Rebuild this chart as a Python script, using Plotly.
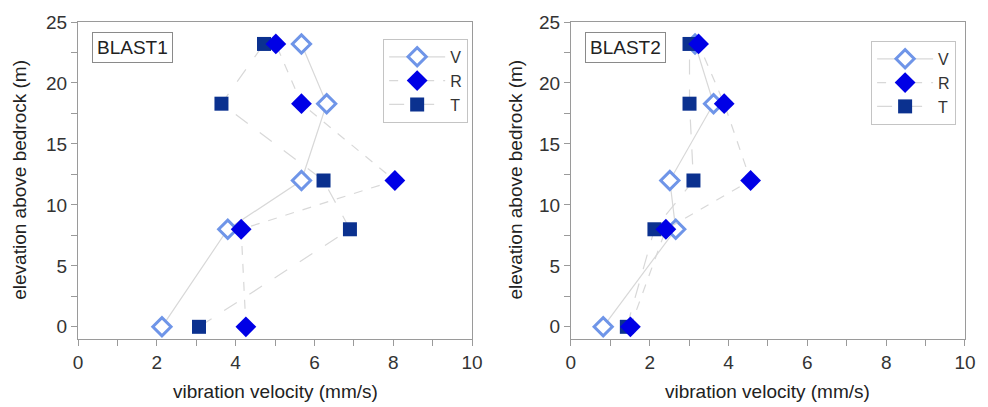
import plotly.graph_objects as go

# elevations (m)
elev = [0, 8, 12, 18.3, 23.2]

# BLAST1 vibration velocities (mm/s)
b1_V = [2.13, 3.80, 5.67, 6.31, 5.67]
b1_R = [4.26, 4.14, 8.04, 5.67, 5.02]
b1_T = [3.07, 6.90, 6.23, 3.64, 4.72]

# BLAST2 vibration velocities (mm/s)
b2_V = [0.82, 2.66, 2.51, 3.62, 3.15]
b2_R = [1.51, 2.41, 4.56, 3.89, 3.24]
b2_T = [1.42, 2.12, 3.11, 3.01, 3.01]

panel_names = ["BLAST1", "BLAST2"]
x_ticks = [0, 2, 4, 6, 8, 10]
y_ticks = [0, 5, 10, 15, 20, 25]

FONT = "Liberation Sans, Arial, sans-serif"
C_V = "#6f95e8"
C_R = "#0000e6"
C_T = "#0b318f"
LINE_C = "#d8d8d8"

fig = go.Figure()

panels = [(b1_V, b1_R, b1_T, "x", "y", "legend"),
          (b2_V, b2_R, b2_T, "x2", "y2", "legend2")]

for V, R, T, xa, ya, lg in panels:
    fig.add_trace(go.Scatter(
        x=V, y=elev, name="V", mode="lines+markers", xaxis=xa, yaxis=ya, legend=lg,
        legendrank=1,
        line=dict(color=LINE_C, width=1.2, dash="solid"),
        marker=dict(symbol="diamond", size=14, color="white",
                    line=dict(color=C_V, width=3))))
    fig.add_trace(go.Scatter(
        x=T, y=elev, name="T", mode="lines+markers", xaxis=xa, yaxis=ya, legend=lg,
        legendrank=3,
        line=dict(color=LINE_C, width=1.2, dash="longdash"),
        marker=dict(symbol="square", size=14, color=C_T, line=dict(width=0))))
    fig.add_trace(go.Scatter(
        x=R, y=elev, name="R", mode="lines+markers", xaxis=xa, yaxis=ya, legend=lg,
        legendrank=2,
        line=dict(color=LINE_C, width=1.2, dash="dash"),
        marker=dict(symbol="diamond", size=16, color=C_R, line=dict(width=0))))

axis_common = dict(
    showgrid=False, zeroline=False, showline=True, linecolor="#9a9a9a", linewidth=1,
    mirror=True, ticks="outside", ticklen=6, tickcolor="#9a9a9a",
    tickfont=dict(family=FONT, size=19, color="#333333"),
)

W, H = 988, 407
ml, mr, mt, mb = 78, 12, 20, 68
pw = W - ml - mr
ph = H - mt - mb

legend_common = dict(xanchor="right", yanchor="top", bgcolor="white",
                     bordercolor="#c4c4c4", borderwidth=1, itemwidth=56,
                     font=dict(family=FONT, size=16, color="#333333"), tracegroupgap=0)

fig.update_layout(
    width=W, height=H,
    margin=dict(l=ml, r=mr, t=mt, b=mb),
    paper_bgcolor="white", plot_bgcolor="white",
    xaxis=dict(domain=[0, 399 / pw], range=[0, 10], tickvals=x_ticks, anchor="y",
               minor=dict(ticks="outside", ticklen=6, dtick=1, tickcolor="#9a9a9a"),
               **axis_common),
    yaxis=dict(domain=[0, 1], range=[-1.0, 25], tickvals=y_ticks, anchor="x",
               minor=dict(ticks="outside", ticklen=6, dtick=2.5, tickcolor="#9a9a9a"),
               **axis_common),
    xaxis2=dict(domain=[499 / pw, 1], range=[0, 10], tickvals=x_ticks, anchor="y2",
                minor=dict(ticks="outside", ticklen=6, dtick=1, tickcolor="#9a9a9a"),
                **axis_common),
    yaxis2=dict(domain=[0, 1], range=[-1.0, 25], tickvals=y_ticks, anchor="x2",
                minor=dict(ticks="outside", ticklen=6, dtick=2.5, tickcolor="#9a9a9a"),
                **axis_common),
    legend=dict(x=(473 - ml) / pw, y=(H - mb - 37) / ph, **legend_common),
    legend2=dict(x=(967 - ml) / pw, y=(H - mb - 39) / ph, **legend_common),
    showlegend=True,
)

def px_x(p):
    return (p - ml) / pw

def px_y(p):
    return (H - mb - p) / ph

annots = [
    dict(text=panel_names[0], x=px_x(133), y=px_y(45.5)),
    dict(text=panel_names[1], x=px_x(632.5), y=px_y(46)),
]
for a in annots:
    fig.add_annotation(xref="paper", yref="paper", xanchor="center", yanchor="middle",
                       showarrow=False, bordercolor="#8a8a8a", borderwidth=1, borderpad=4,
                       bgcolor="white", font=dict(family=FONT, size=19, color="#222222"), **a)

for xc in (278, 776):
    fig.add_annotation(xref="paper", yref="paper", x=px_x(xc), y=px_y(392),
                       xanchor="center", yanchor="middle", showarrow=False,
                       text="vibration velocity (mm/s)",
                       font=dict(family=FONT, size=19, color="#222222"))
for xc in (18, 520):
    fig.add_annotation(xref="paper", yref="paper", x=px_x(xc), y=px_y(179),
                       xanchor="center", yanchor="middle", showarrow=False, textangle=-90,
                       text="elevation above bedrock (m)",
                       font=dict(family=FONT, size=19, color="#222222"))

fig.write_html("out.html")
